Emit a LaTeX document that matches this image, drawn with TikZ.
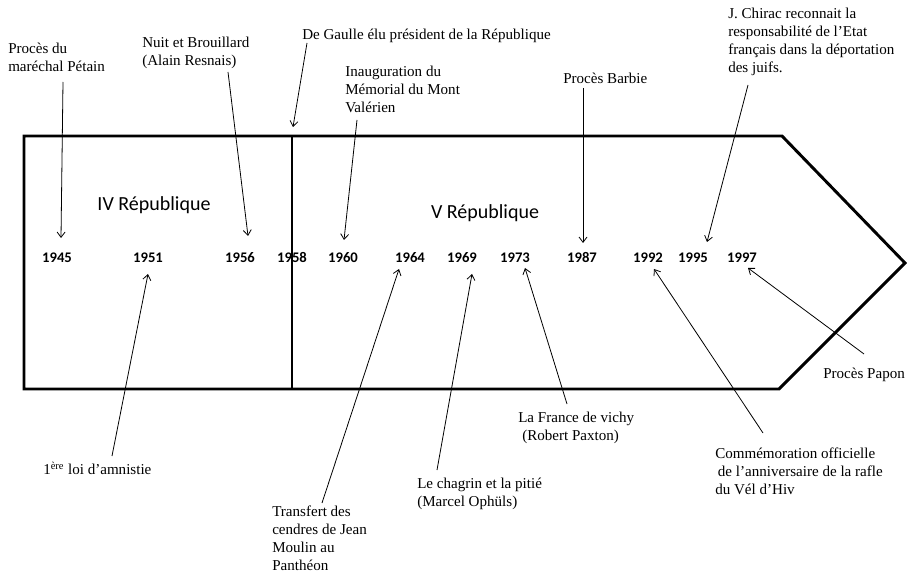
\documentclass[tikz,border=0pt]{standalone}
\usepackage{fontspec}
\setmainfont{Liberation Serif}
\newfontfamily\calfont{Carlito}
\usetikzlibrary{arrows.meta, calc}

\begin{document}
\begin{tikzpicture}[x=0.75pt, y=-0.75pt, font=\fontsize{11.3}{13.5}\selectfont,
  evt/.style={-{Straight Barb[length=4pt, width=6pt]}, line width=0.6pt},
  lbl/.style={anchor=north west, align=left, inner sep=0pt},
  yr/.style={font=\calfont\bfseries\fontsize{11}{13}\selectfont, inner sep=0pt,
    text height=7pt, text depth=0pt},
  rep/.style={font=\calfont\fontsize{15}{18}\selectfont, inner sep=0pt}]
\useasboundingbox (0,0) rectangle (907,577);

% ---- timeline body ------------------------------------------------------
\draw[line width=2.2pt, line join=miter] (24,136) -- (782,136) -- (905,263)
  -- (779,389) -- (24,389) -- cycle;
\coordinate (dtop) at (292,136);
\coordinate (dbot) at (292,389);
\draw[line width=1pt] (dtop) -- (dbot);
\node[rep] (iv) at (154,205) {IV République};
\node[rep] (v)  at (485,213) {V République};

% ---- years --------------------------------------------------------------
\foreach \yr/\xx in {1945/57, 1951/148, 1956/240, 1958/292, 1960/343,
  1964/410, 1969/462, 1973/515, 1987/582, 1992/648, 1995/693, 1997/742}
  \node[yr] (y\yr) at (\xx,258) {\yr};

% ---- events above -------------------------------------------------------
\node[lbl] (petain)   at (8,43)   {Procès du\\maréchal Pétain};
\node[lbl] (nuit)     at (142,37) {Nuit et Brouillard\\(Alain Resnais)};
\node[lbl] (gaulle)   at (302,29) {De Gaulle élu président de la République};
\node[lbl] (valerien) at (345,66) {Inauguration du\\Mémorial du Mont\\Valérien};
\node[lbl] (barbie)   at (563,73) {Procès Barbie};
\node[lbl] (chirac)   at (728,8)  {J. Chirac reconnait la\\responsabilité de l’Etat\\français dans la déportation\\des juifs.};

\draw[evt] ($(petain.north west)+(55,39)$)   -- ($(y1945)+(4,-20)$);
\draw[evt] ($(nuit.north west)+(86,35)$)     -- ($(y1956)+(8,-22)$);
\draw[evt] ($(gaulle.north west)+(5,14)$)    -- ($(dtop)+(1,-9)$);
\draw[evt] ($(valerien.north west)+(12,54)$) -- ($(y1960)+(1,-18)$);
\draw[evt] ($(barbie.north west)+(20,15)$)   -- ($(y1987)+(1,-15)$);
\draw[evt] ($(chirac.north west)+(20,77)$)   -- ($(y1995)+(14,-16)$);

% ---- events below -------------------------------------------------------
\node[lbl] (amnistie)  at (43,462)  {1\textsuperscript{ère} loi d’amnistie};
\node[lbl] (transfert) at (272,506) {Transfert des\\cendres de Jean\\Moulin au\\Panthéon};
\node[lbl] (chagrin)   at (417,478) {Le chagrin et la pitié\\(Marcel Ophüls)};
\node[lbl] (vichy)     at (518,412) {La France de vichy\\\hspace*{3pt}(Robert Paxton)};
\node[lbl] (commemo)   at (715,448) {Commémoration officielle\\\hspace*{2pt}de l’anniversaire de la rafle\\du Vél d’Hiv};
\node[lbl] (papon)     at (823,368) {Procès Papon};

\draw[evt] ($(amnistie.north west)+(69,-6)$)  -- ($(y1951)+(0,16)$);
\draw[evt] ($(transfert.north west)+(50,-3)$) -- ($(y1964)+(-11,11)$);
\draw[evt] ($(chagrin.north west)+(20,-8)$)   -- ($(y1969)+(10,16)$);
\draw[evt] ($(vichy.north west)+(49,-8)$)     -- ($(y1973)+(10,10)$);
\draw[evt] ($(commemo.north west)+(48,-15)$)  -- ($(y1992)+(6,11)$);
\draw[evt] ($(papon.north west)+(41,-14)$)    -- ($(y1997)+(6,10)$);
\end{tikzpicture}
\end{document}
